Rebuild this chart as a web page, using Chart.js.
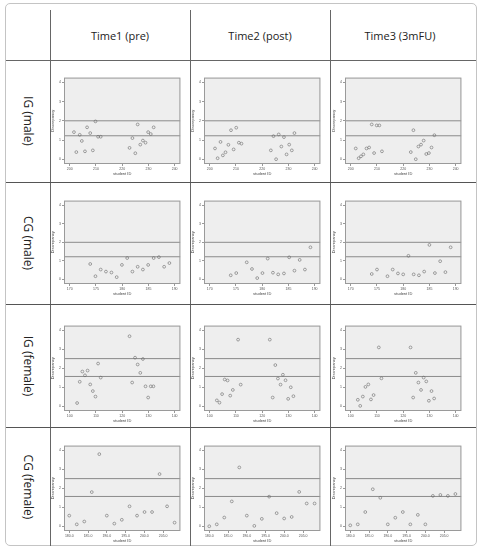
<!DOCTYPE html>
<html>
<head>
<meta charset="utf-8">
<script src="https://cdn.jsdelivr.net/npm/chart.js@4"></script>
<style>
  body { margin: 0; background: #fff; }
  #fig { position: relative; width: 483px; height: 547px; font-family: "Open Sans", sans-serif; overflow: hidden; }
  .box { position: absolute; left: 5px; top: 3px; width: 472px; height: 543px; border: 1px solid #c4c4c4; border-radius: 5px; box-sizing: border-box; }
  .hl { position: absolute; height: 1px; background: #666; }
  .vl { position: absolute; width: 1px; background: #666; }
  .head { position: absolute; top: 28px; width: 140px; text-align: center; font-size: 11px; color: #222; }
  .rowlab { position: absolute; left: 28px; font-size: 12px; color: #222; white-space: nowrap; transform: translate(-50%, -50%) rotate(90deg); }
  canvas { position: absolute; }
</style>
</head>
<body>
<div id="fig"><div class="box"></div></div>
<script>
// column / row headings
const timeLabels = ["Time1 (pre)", "Time2 (post)", "Time3 (3mFU)"];
const groupLabels = ["IG (male)", "CG (male)", "IG (female)", "CG (female)"];

// tick labels (x in tick-index units)
const yTickLabels = ["0", "1", "2", "3", "4"];
const igMaleIds = ["200", "210", "220", "230", "240"];
const cgMaleIds = ["170", "175", "180", "185", "190"];
const igFemaleIds = ["100", "110", "120", "130", "140"];
const cgFemaleIds = ["180.0", "185.0", "190.0", "195.0", "200.0", "205.0"];

// reference lines
const maleRefLines = [2.0, 1.22];
const femaleRefLines = [2.51, 1.57];

// discrepancy per student [x, y]
const igMaleT1 = [[0.16,1.41],[0.25,0.37],[0.38,1.27],[0.46,0.95],[0.58,0.41],[0.66,1.66],[0.78,1.36],[0.88,0.46],[0.98,1.97],[1.08,1.17],[1.18,1.17],[2.28,0.59],[2.39,1.10],[2.5,0.31],[2.59,1.81],[2.69,0.76],[2.79,0.97],[2.89,0.86],[2.99,1.41],[3.09,1.31],[3.2,1.66]];
const igMaleT2 = [[0.2,0.56],[0.3,0.05],[0.41,0.9],[0.5,0.2],[0.6,0.36],[0.71,0.75],[0.81,1.51],[0.91,0.51],[1.01,1.64],[1.11,0.86],[1.21,0.81],[2.33,0.46],[2.43,1.2],[2.53,0.0],[2.63,1.29],[2.73,0.66],[2.83,1.15],[2.93,0.25],[3.03,0.76],[3.13,0.46],[3.23,1.36]];
const igMaleT3 = [[0.19,0.56],[0.3,0.05],[0.39,0.15],[0.48,0.25],[0.6,0.56],[0.7,0.61],[0.8,1.81],[0.89,0.32],[0.99,1.76],[1.09,1.76],[1.19,0.41],[2.29,0.37],[2.39,1.51],[2.48,0.0],[2.58,0.66],[2.68,0.76],[2.78,0.97],[2.88,0.27],[2.98,0.32],[3.08,0.61],[3.19,1.25]];
const cgMaleT1 = [[0.78,0.83],[0.98,0.17],[1.18,0.53],[1.38,0.42],[1.59,0.37],[1.79,0.12],[1.99,0.78],[2.19,1.15],[2.39,0.42],[2.59,0.68],[2.79,0.53],[2.99,0.78],[3.2,1.15],[3.4,1.2],[3.6,0.68],[3.8,0.88]];
const cgMaleT2 = [[0.8,0.22],[1.01,0.34],[1.41,0.92],[1.61,0.56],[1.81,0.07],[2.01,0.34],[2.21,1.12],[2.41,0.36],[2.61,0.27],[2.83,0.32],[3.03,1.19],[3.23,0.47],[3.43,1.05],[3.63,0.53],[3.84,1.73]];
const cgMaleT3 = [[0.8,0.29],[1.0,0.53],[1.4,0.17],[1.6,0.53],[1.8,0.32],[2.0,0.27],[2.2,1.27],[2.4,0.27],[2.6,0.22],[2.8,0.42],[3.0,1.86],[3.21,0.34],[3.41,0.98],[3.61,0.39],[3.81,1.73]];
const igFemaleT1 = [[0.28,0.17],[0.38,1.29],[0.48,1.83],[0.58,1.63],[0.68,1.88],[0.78,1.15],[0.88,0.8],[0.98,0.51],[1.08,2.25],[1.18,1.51],[2.28,3.69],[2.38,1.25],[2.49,2.56],[2.59,2.2],[2.69,1.76],[2.79,2.49],[2.89,1.05],[2.99,0.46],[3.09,1.05],[3.19,1.05]];
const igFemaleT2 = [[0.27,0.31],[0.37,0.19],[0.47,0.64],[0.57,1.41],[0.68,1.36],[0.78,0.56],[0.88,0.86],[1.08,3.51],[1.18,1.14],[2.29,3.51],[2.4,0.46],[2.5,2.17],[2.6,1.46],[2.7,1.14],[2.79,1.66],[2.89,1.37],[2.99,0.39],[3.09,1.0],[3.19,0.53]];
const igFemaleT3 = [[0.27,0.34],[0.36,0.02],[0.46,0.51],[0.56,1.02],[0.67,1.15],[0.77,0.36],[0.87,0.59],[1.07,3.1],[1.17,1.47],[2.28,3.1],[2.38,0.46],[2.48,1.76],[2.58,1.25],[2.68,0.86],[2.78,1.51],[2.88,1.31],[2.98,0.29],[3.08,0.8],[3.18,0.41]];
const cgFemaleT1 = [[0,0.56],[0.4,0.1],[0.8,0.25],[1.2,1.8],[1.6,3.8],[2.0,0.56],[2.4,0.14],[2.8,0.34],[3.21,1.05],[3.61,0.56],[4.01,0.75],[4.41,0.75],[4.81,2.75],[5.21,1.05],[5.61,0.19]];
const cgFemaleT2 = [[0,0],[0.4,0.1],[0.8,0.46],[1.2,1.31],[1.6,3.1],[2.0,0.56],[2.4,0.02],[2.8,0.39],[3.19,1.56],[3.59,0.69],[3.99,0.41],[4.39,0.49],[4.79,1.81],[5.19,1.2],[5.61,1.2]];
const cgFemaleT3 = [[0,0.05],[0.4,0.1],[0.8,0.75],[1.2,1.95],[1.6,1.5],[2.0,0.1],[2.4,0.45],[2.8,0.75],[3.2,0.1],[3.6,0.6],[4.0,0.1],[4.4,1.6],[4.8,1.65],[5.2,1.6],[5.6,1.7]];

const rows = [
  { ids: igMaleIds, refs: maleRefLines, panels: [igMaleT1, igMaleT2, igMaleT3] },
  { ids: cgMaleIds, refs: maleRefLines, panels: [cgMaleT1, cgMaleT2, cgMaleT3] },
  { ids: igFemaleIds, refs: femaleRefLines, panels: [igFemaleT1, igFemaleT2, igFemaleT3] },
  { ids: cgFemaleIds, refs: femaleRefLines, panels: [cgFemaleT1, cgFemaleT2, cgFemaleT3] },
];

// layout
const fig = document.getElementById("fig");
const colX = [50, 190, 330];
const rowY = [60, 182, 304, 427, 546];
const plotCols = [[64, 183], [204, 323], [345, 464]];
const plotRows = [[75, 164], [198, 284], [323, 411], [443, 531]];

function addDiv(cls, css, text) {
  const d = document.createElement("div");
  d.className = cls;
  Object.assign(d.style, css);
  if (text) d.textContent = text;
  fig.appendChild(d);
}
addDiv("hl", { left: "6px", top: "60px", width: "470px" });
colX.forEach(x => addDiv("vl", { left: x + "px", top: "10px", height: "536px" }));
rowY.slice(1, 4).forEach(y => addDiv("hl", { left: "6px", top: y + "px", width: "470px", background: "#555" }));
timeLabels.forEach((t, i) => addDiv("head", { left: colX[i] + "px" }, t));
groupLabels.forEach((g, i) => addDiv("rowlab", { top: (rowY[i] + rowY[i + 1]) / 2 + "px" }, g));

const plotBox = {
  id: "plotBox",
  beforeDraw(chart) {
    const a = chart.chartArea, c = chart.ctx;
    c.save();
    c.fillStyle = "#eeeeee";
    c.fillRect(a.left, a.top, a.right - a.left, a.bottom - a.top);
    c.restore();
  },
  afterDraw(chart) {
    const a = chart.chartArea, c = chart.ctx;
    c.save();
    c.strokeStyle = "#9a9a9a";
    c.lineWidth = 1;
    c.strokeRect(a.left + 0.5, a.top + 0.5, a.right - a.left - 1, a.bottom - a.top - 1);
    c.restore();
  },
};

rows.forEach((row, r) => {
  const n = row.ids.length - 1;
  const xMin = n === 4 ? -0.22 : -0.28;
  const xMax = n === 4 ? 4.22 : 5.92;
  row.panels.forEach((pts, c) => {
    const [pl, pr] = plotCols[c];
    const [pt, pb] = plotRows[r];
    const cv = document.createElement("canvas");
    cv.width = pr - pl + 16;
    cv.height = pb - pt + 14;
    cv.style.left = pl - 14 + "px";
    cv.style.top = pt - 2 + "px";
    fig.appendChild(cv);

    new Chart(cv, {
      type: "scatter",
      data: {
        datasets: [
          {
            data: pts.map(p => ({ x: p[0], y: p[1] })),
            pointRadius: 1.4,
            pointBorderWidth: 0.6,
            pointBorderColor: "#6a6a6a",
            pointBackgroundColor: "rgba(0,0,0,0)",
          },
          ...row.refs.map(v => ({
            type: "line",
            data: [{ x: xMin, y: v }, { x: xMax, y: v }],
            borderColor: "#8a8a8a",
            borderWidth: 1,
            pointRadius: 0,
          })),
        ],
      },
      options: {
        responsive: false,
        animation: false,
        events: [],
        layout: { padding: { top: 2, right: 2 } },
        plugins: { legend: { display: false }, tooltip: { enabled: false } },
        scales: {
          x: {
            type: "linear",
            min: xMin,
            max: xMax,
            afterBuildTicks: s => { s.ticks = row.ids.map((_, i) => ({ value: i })); },
            afterFit: s => { s.height = 12; },
            ticks: { callback: (v, i) => row.ids[i], font: { size: 3.5 }, color: "#555", padding: 1, maxRotation: 0, autoSkip: false },
            grid: { drawOnChartArea: false, tickLength: 2, color: "#999" },
            border: { display: false },
            title: { display: true, text: "student ID", font: { size: 4 }, color: "#444", padding: 0 },
          },
          y: {
            min: -0.25,
            max: 4.25,
            afterBuildTicks: s => { s.ticks = yTickLabels.map((_, i) => ({ value: i })); },
            afterFit: s => { s.width = 14; },
            ticks: { callback: (v, i) => yTickLabels[i], font: { size: 3.5 }, color: "#555", padding: 1 },
            grid: { drawOnChartArea: false, tickLength: 2, color: "#999" },
            border: { display: false },
            title: { display: true, text: "Discrepancy", font: { size: 4 }, color: "#444", padding: 0 },
          },
        },
      },
      plugins: [plotBox],
    });
  });
});
</script>
</body>
</html>
